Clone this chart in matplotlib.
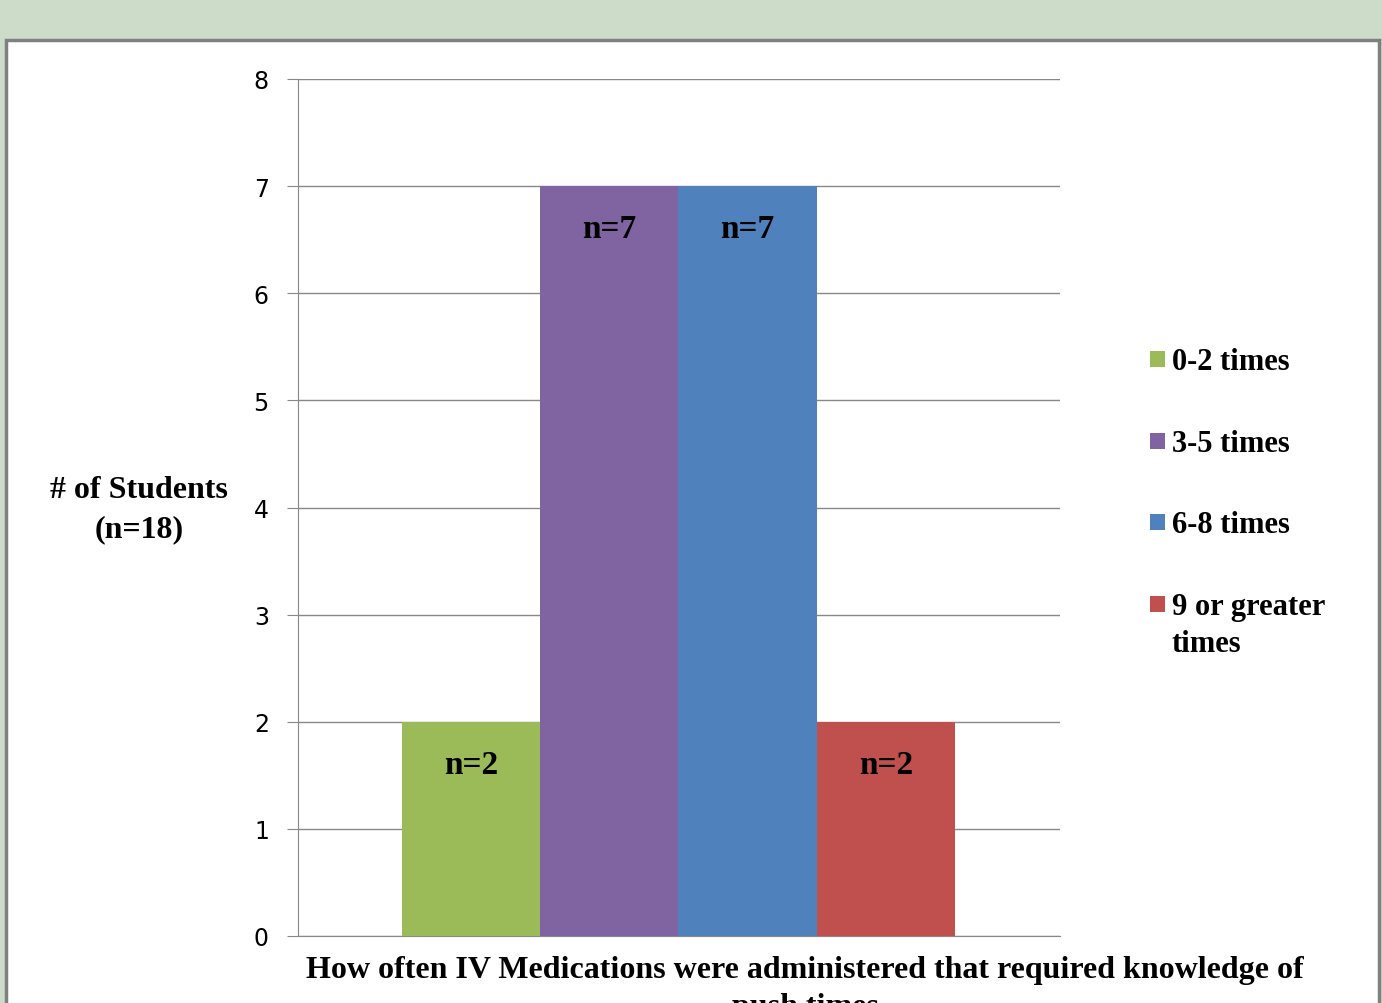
import matplotlib
matplotlib.use('Agg')
import matplotlib.pyplot as plt
from matplotlib.patches import Rectangle

# data
categories = ['0-2 times', '3-5 times', '6-8 times', '9 or greater\ntimes']
counts = [2, 7, 7, 2]
bar_labels = ['n=2', 'n=7', 'n=7', 'n=2']
colors = ['#9bbb59', '#8064a2', '#4f81bd', '#c0504d']
yticks = [0, 1, 2, 3, 4, 5, 6, 7, 8]

W, H = 1382, 1004
fig = plt.figure(figsize=(W / 100, H / 100), dpi=100)
fig.patch.set_facecolor('#ccdcc8')

# white panel with grey frame
panel = Rectangle((6 / W, -0.1), (1379 - 6) / W, 1.1 - 41 / H, transform=fig.transFigure,
                  facecolor='white', edgecolor='#808080', linewidth=2.5, zorder=-5)
fig.patches.append(panel)

ax = fig.add_axes([298 / W, 1 - 937 / H, (1060 - 298) / W, (937 - 80) / H])
ax.set_facecolor('none')

x = list(range(len(counts)))
bars = ax.bar(x, counts, width=1.0, color=colors, zorder=3)
ax.set_xlim(-1.252, 4.26)
ax.set_ylim(0, 8)
ax.set_yticks(yticks)
ax.set_xticks([])
ax.yaxis.grid(True, color='#888888', linewidth=1.0, zorder=0)
for s in ['top', 'right']:
    ax.spines[s].set_visible(False)
ax.spines['left'].set_color('#888888')
ax.spines['bottom'].set_color('#888888')
ax.tick_params(axis='y', length=8, color='#888888', pad=13, labelsize=17)
for t in ax.get_yticklabels():
    t.set_fontfamily('DejaVu Sans')

serif = 'Liberation Serif'
for xi, v, lab in zip(x, counts, bar_labels):
    ax.text(xi, v - 0.4, lab, ha='center', va='center', fontsize=24,
            fontweight='bold', family=serif, zorder=4)

fig.text(139 / W, 1 - 510 / H, '# of Students\n(n=18)', ha='center', va='center',
         fontsize=23, fontweight='bold', family=serif, linespacing=1.45)
# x title runs off the bottom edge, as in the original slide
fig.text(805 / W, 1 - 956 / H,
         'How often IV Medications were administered that required knowledge of\npush times',
         ha='center', va='top', fontsize=23, fontweight='bold', family=serif,
         linespacing=1.38)

# legend drawn by hand so the square sits on the first line of a wrapped label
for i, (cat, col) in enumerate(zip(categories, colors)):
    yc = 360 + i * 81.7
    fig.patches.append(Rectangle((1150 / W, 1 - (yc + 8) / H), 15 / W, 16 / H,
                                 transform=fig.transFigure, facecolor=col))
    fig.text(1172 / W, 1 - (yc - 12) / H, cat, ha='left', va='top', fontsize=22,
             fontweight='bold', family=serif, linespacing=1.35)

fig.savefig('out.png', dpi=100, facecolor=fig.get_facecolor())
